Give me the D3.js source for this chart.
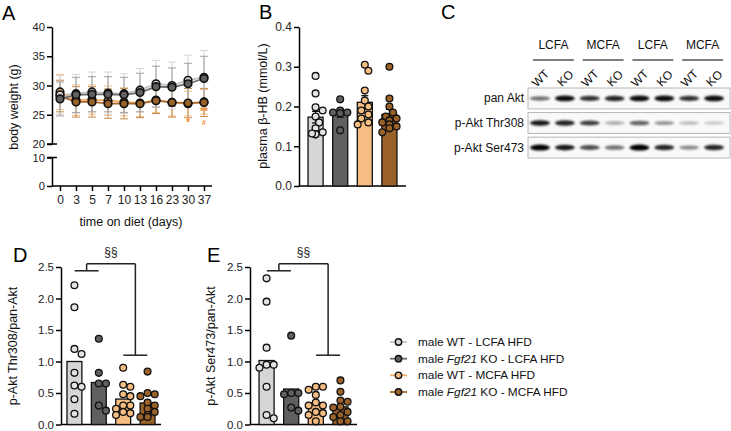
<!DOCTYPE html>
<html><head><meta charset="utf-8">
<script src="https://cdn.jsdelivr.net/npm/d3@7"></script>
<style>body{margin:0;background:#fff}svg{display:block;font-family:"Liberation Sans",Arial,sans-serif}</style>
</head><body><svg id="c" width="731" height="431"></svg>
<script>
// ---------- DATA ----------
const groups = ["WT LCFA", "KO LCFA", "WT MCFA", "KO MCFA"];
const fills = ["#d6d6d6", "#606060", "#f6bd82", "#9a6128"];
const lineColors = ["#c4c4c4", "#6a6a6a", "#f3aa62", "#a3682c"];
const errColors = ["#d4d4d4", "#a0a0a0", "#f4c08c", "#c48a4a"];

// Panel A: body weight
const days = ["0", "3", "5", "7", "10", "13", "16", "23", "30", "37"];
const bwWtLcfa = [28.4, 28.6, 28.9, 28.7, 28.6, 29.2, 30.3, 30.0, 30.9, 31.4];
const bwKoLcfa = [27.7, 28.4, 28.5, 28.5, 28.4, 28.8, 29.8, 29.7, 30.3, 31.2];
const bwWtMcfa = [28.9, 27.5, 27.6, 27.4, 27.2, 27.0, 27.5, 27.1, 26.9, 27.2];
const bwKoMcfa = [28.2, 27.2, 27.2, 26.9, 26.9, 26.9, 27.4, 27.1, 27.0, 27.1];
const sdWtLcfa = [3.3, 3.3, 3.4, 3.6, 3.4, 3.7, 4.0, 4.0, 4.3, 4.6];
const sdKoLcfa = [2.9, 3.0, 3.0, 3.0, 3.0, 3.3, 3.5, 3.3, 3.5, 3.8];
const sdWtMcfa = [3.0, 2.6, 2.5, 2.5, 2.4, 2.3, 2.1, 2.3, 2.1, 2.1];
const sdKoMcfa = [2.7, 2.6, 2.6, 2.5, 2.6, 2.4, 2.2, 2.5, 2.5, 2.4];
const bwSignif = [{day: "30", text: "*", value: 23.0, size: 10}, {day: "37", text: "**", value: 24.9, size: 10}, {day: "37", text: "#", value: 23.2, size: 7}];
const bwTicksUpper = [20, 25, 30, 35, 40];
const bwTicksLower = [0, 10];

// Panel B: plasma beta-HB
const hbWtLcfa = [0.277, 0.233, 0.198, 0.19, 0.175, 0.16, 0.145, 0.135, 0.13, 0.13, 0.132];
const hbKoLcfa = [0.218, 0.19, 0.185, 0.185, 0.183, 0.14];
const hbWtMcfa = [0.305, 0.29, 0.24, 0.215, 0.2, 0.19, 0.18, 0.17, 0.16, 0.155];
const hbKoMcfa = [0.3, 0.22, 0.2, 0.185, 0.175, 0.17, 0.165, 0.16, 0.155, 0.15, 0.145, 0.135];
const hbTicks = [0, 0.1, 0.2, 0.3, 0.4];

// Panel C: western blot
const blotGroups = ["LCFA", "MCFA", "LCFA", "MCFA"];
const blotLanes = ["WT", "KO", "WT", "KO", "WT", "KO", "WT", "KO"];
const blotRows = ["pan Akt", "p-Akt Thr308", "p-Akt Ser473"];
const bandPanAkt = [0.55, 0.95, 0.8, 0.85, 0.95, 0.95, 0.8, 0.95];
const bandThr308 = [0.9, 0.85, 0.75, 0.3, 0.6, 0.4, 0.25, 0.2];
const bandSer473 = [1.0, 0.9, 0.7, 0.55, 1.0, 0.85, 0.45, 0.85];

// Panel D: p-Akt Thr308 / pan-Akt
const thrWtLcfa = [2.21, 1.86, 1.2, 1.12, 0.82, 0.62, 0.6, 0.4, 0.17];
const thrKoLcfa = [1.36, 0.82, 0.65, 0.65, 0.3, 0.22];
const thrWtMcfa = [0.9, 0.63, 0.6, 0.48, 0.45, 0.3, 0.3, 0.25, 0.2, 0.18, 0.15];
const thrKoMcfa = [0.84, 0.5, 0.48, 0.45, 0.35, 0.3, 0.25, 0.2, 0.15, 0.12, 0.12];
// Panel E: p-Akt Ser473 / pan-Akt
const serWtLcfa = [2.32, 1.95, 1.22, 0.95, 0.95, 0.9, 0.6, 0.15, 0.1];
const serKoLcfa = [1.41, 0.5, 0.5, 0.48, 0.27, 0.22];
const serWtMcfa = [0.6, 0.6, 0.55, 0.47, 0.35, 0.3, 0.3, 0.2, 0.18, 0.15, 0.05];
const serKoMcfa = [0.7, 0.52, 0.38, 0.36, 0.28, 0.27, 0.2, 0.15, 0.12, 0.05, 0.05];
const aktTicks = [0, 0.5, 1.0, 1.5, 2.0, 2.5];
const bracketLevels = {top: 2.55, left: 2.44, right: 1.1, label: "§§"};

const legendLabels = [
  ["male WT - LCFA HFD"],
  ["male ", "Fgf21", " KO - LCFA HFD"],
  ["male WT - MCFA HFD"],
  ["male ", "Fgf21", " KO - MCFA HFD"]
];

// ---------- DRAWING ----------
const svg = d3.select("#c");
const FONT = 12;
const TITLE = 12.5;
const defs = svg.append("defs");
defs.append("filter").attr("id", "blur").attr("x", "-50%").attr("y", "-100%").attr("width", "200%").attr("height", "300%")
  .append("feGaussianBlur").attr("stdDeviation", "1.3 0.9");

function panelLetter(t, x, y) {
  svg.append("text").attr("x", x).attr("y", y).attr("font-size", 20).text(t);
}
function styleAxis(g, fs) {
  g.selectAll(".domain").attr("stroke", "#000").attr("stroke-width", 1.5);
  g.selectAll(".tick line").attr("stroke", "#000").attr("stroke-width", 1.5);
  g.selectAll(".tick text").attr("font-size", fs || FONT).attr("fill", "#222").attr("font-family", "Liberation Sans, Arial, sans-serif");
}
function yTitle(t, x, yc) {
  svg.append("text").attr("transform", `translate(${x},${yc}) rotate(-90)`).attr("text-anchor", "middle")
    .attr("font-size", TITLE).attr("fill", "#111").text(t);
}

// ----- Panel A -----
panelLetter("A", 2, 20);
const xA = d3.scalePoint().domain(days).range([60, 204]);
const yUp = d3.scaleLinear().domain([20, 40]).range([144, 27]);
const yLo = d3.scaleLinear().domain([0, 10]).range([186, 157.5]);
const yBW = v => v >= 20 ? yUp(v) : yLo(v);
const gAu = svg.append("g").attr("transform", "translate(52,0)")
  .call(d3.axisLeft(yUp).tickValues(bwTicksUpper).tickSize(5).tickSizeOuter(0).tickPadding(2));
styleAxis(gAu, 11.2);
const gAl = svg.append("g").attr("transform", "translate(52,0)")
  .call(d3.axisLeft(yLo).tickValues(bwTicksLower).tickSize(5).tickSizeOuter(0).tickPadding(2));
styleAxis(gAl, 11.2);
[yUp(20), yLo(10)].forEach(y => svg.append("line").attr("x1", 47).attr("x2", 57).attr("y1", y).attr("y2", y).attr("stroke", "#000").attr("stroke-width", 1.5));
const gAx = svg.append("g").attr("transform", `translate(0,${yLo(0)})`)
  .call(d3.axisBottom(xA).tickSize(5).tickSizeOuter(0).tickPadding(4));
gAx.select(".domain").attr("d", "M52,0H212");
styleAxis(gAx);
yTitle("body weight (g)", 18, 107);
svg.append("text").attr("x", 131).attr("y", 226).attr("text-anchor", "middle").attr("font-size", TITLE).attr("fill", "#111").text("time on diet (days)");

const bwSeries = [
  {m: bwWtLcfa, sd: sdWtLcfa, i: 0}, {m: bwKoLcfa, sd: sdKoLcfa, i: 1},
  {m: bwWtMcfa, sd: sdWtMcfa, i: 2}, {m: bwKoMcfa, sd: sdKoMcfa, i: 3}
];
const drawOrder = [2, 3, 0, 1];
drawOrder.forEach(k => {
  const s = bwSeries[k];
  const g = svg.append("g");
  days.forEach((d, j) => {
    const x = xA(d), y1 = yBW(s.m[j] + s.sd[j]), y0 = yBW(s.m[j] - s.sd[j]);
    g.append("line").attr("x1", x).attr("x2", x).attr("y1", y1).attr("y2", y0).attr("stroke", errColors[s.i]).attr("stroke-width", 1);
    [y1, y0].forEach(y => g.append("line").attr("x1", x - 4).attr("x2", x + 4).attr("y1", y).attr("y2", y).attr("stroke", errColors[s.i]).attr("stroke-width", 1));
  });
});
drawOrder.forEach(k => {
  const s = bwSeries[k];
  svg.append("path").datum(s.m).attr("fill", "none").attr("stroke", lineColors[s.i]).attr("stroke-width", 1.8)
    .attr("d", d3.line().x((v, j) => xA(days[j])).y(v => yBW(v)));
});
drawOrder.forEach(k => {
  const s = bwSeries[k];
  svg.append("g").selectAll("circle").data(s.m).join("circle")
    .attr("cx", (v, j) => xA(days[j])).attr("cy", v => yBW(v)).attr("r", 3.8)
    .attr("fill", fills[s.i]).attr("stroke", "#111").attr("stroke-width", 1.6);
});
bwSignif.forEach(s => {
  svg.append("text").attr("x", xA(s.day)).attr("y", yBW(s.value)).attr("text-anchor", "middle")
    .attr("font-size", s.size).attr("font-weight", "bold").attr("fill", "#f08a2a").text(s.text);
});

// ----- helper for bar + dot panels -----
function beeswarm(vals, y, r, maxOff) {
  const idx = vals.map((v, i) => i).sort((a, b) => vals[b] - vals[a]);
  const placed = [];
  const off = new Array(vals.length).fill(0);
  const step = r * 1.05;
  idx.forEach(i => {
    const yi = y(vals[i]);
    const cands = [0];
    for (let k = 1; k < 8; k++) { cands.push(k * step, -k * step); }
    let chosen = cands.find(c => Math.abs(c) <= maxOff && placed.every(p => (p.x - c) ** 2 + (p.y - yi) ** 2 >= (2 * r * 0.92) ** 2));
    if (chosen === undefined) chosen = 0;
    off[i] = chosen;
    placed.push({x: chosen, y: yi});
  });
  return off;
}
function barPanel(opt) {
  const x = d3.scaleBand().domain(groups).range([opt.x0, opt.x1]).paddingInner(0.388).paddingOuter(opt.outer);
  const y = d3.scaleLinear().domain(opt.domain).range([opt.yb, opt.yt]);
  const gy = svg.append("g").attr("transform", `translate(${opt.x0},0)`)
    .call(d3.axisLeft(y).tickValues(opt.ticks).tickFormat(d3.format(".1f")).tickSize(5).tickSizeOuter(0).tickPadding(2));
  styleAxis(gy, opt.fs);
  svg.append("line").attr("x1", opt.x0).attr("x2", opt.x1).attr("y1", opt.yb).attr("y2", opt.yb).attr("stroke", "#000").attr("stroke-width", 1.5);
  const r = 3.4;
  opt.data.forEach((vals, i) => {
    const g = groups[i];
    const mean = d3.mean(vals);
    const xb = x(g), bw = x.bandwidth();
    svg.append("rect").attr("x", xb).attr("y", y(mean)).attr("width", bw).attr("height", opt.yb - y(mean))
      .attr("fill", fills[i]).attr("stroke", "#111").attr("stroke-width", 1.3);
    if (opt.sem) {
      const sem = d3.deviation(vals) / Math.sqrt(vals.length);
      const cx = xb + bw / 2;
      svg.append("line").attr("x1", cx).attr("x2", cx).attr("y1", y(mean + sem)).attr("y2", y(mean - sem)).attr("stroke", "#111").attr("stroke-width", 1.3);
      [mean + sem, mean - sem].forEach(v => svg.append("line").attr("x1", cx - 3.5).attr("x2", cx + 3.5).attr("y1", y(v)).attr("y2", y(v)).attr("stroke", "#111").attr("stroke-width", 1.3));
    }
    const offs = beeswarm(vals, y, r, bw / 2 + 1);
    svg.append("g").selectAll("circle").data(vals).join("circle")
      .attr("cx", (v, k) => xb + bw / 2 + offs[k]).attr("cy", v => y(v)).attr("r", r)
      .attr("fill", i === 0 ? "#e2e2e2" : fills[i]).attr("stroke", "#111").attr("stroke-width", 1.3);
  });
  return {x, y};
}

// ----- Panel B -----
panelLetter("B", 259, 19);
barPanel({x0: 299, x1: 406, outer: 0.367, domain: [0, 0.4], yb: 186, yt: 27, ticks: hbTicks, sem: true,
  data: [hbWtLcfa, hbKoLcfa, hbWtMcfa, hbKoMcfa]});
yTitle("plasma β-HB (mmol/L)", 267, 106);

// ----- Panel C -----
panelLetter("C", 441, 19);
const xL = d3.scalePoint().domain(d3.range(blotLanes.length)).range([540, 714]);
const yR = d3.scaleBand().domain(blotRows).range([88, 158]).paddingInner(0.15);
const bandData = [bandPanAkt, bandThr308, bandSer473];
blotRows.forEach((row, ri) => {
  svg.append("rect").attr("x", 528).attr("y", yR(row)).attr("width", 202).attr("height", yR.bandwidth())
    .attr("fill", "#f9f9f9").attr("stroke", "#b8b8b8").attr("stroke-width", 1);
  const yc = yR(row) + yR.bandwidth() / 2;
  svg.append("g").attr("filter", "url(#blur)").selectAll("ellipse").data(bandData[ri]).join("ellipse")
    .attr("cx", (v, k) => xL(k)).attr("cy", yc).attr("rx", 10).attr("ry", v => 1.4 + 1.6 * v)
    .attr("fill", "#000").attr("fill-opacity", v => v);
  svg.append("text").attr("x", 524).attr("y", yc + 4).attr("text-anchor", "end").attr("font-size", 12).attr("fill", "#111").text(row);
});
blotGroups.forEach((gname, gi) => {
  const a = xL(gi * 2), b = xL(gi * 2 + 1);
  svg.append("line").attr("x1", a - 7).attr("x2", b + 9).attr("y1", 60).attr("y2", 60).attr("stroke", "#555").attr("stroke-width", 1.5);
  svg.append("text").attr("x", (a + b) / 2 + 1).attr("y", 49).attr("text-anchor", "middle").attr("font-size", 12).attr("fill", "#111").text(gname);
});
blotLanes.forEach((l, k) => {
  svg.append("text").attr("transform", `translate(${xL(k) + 1},${79}) rotate(-45)`).attr("text-anchor", "middle")
    .attr("dominant-baseline", "middle").attr("font-size", 12).attr("fill", "#111").text(l);
});

// ----- Panels D and E -----
function bracket(sc, yScale) {
  const l = (sc.x(groups[0]) + sc.x(groups[1]) + sc.x.bandwidth()) / 2;
  const r = (sc.x(groups[2]) + sc.x(groups[3]) + sc.x.bandwidth()) / 2;
  const yt = yScale(bracketLevels.top), yl = yScale(bracketLevels.left), yr = yScale(bracketLevels.right);
  const ln = (x1, y1, x2, y2) => svg.append("line").attr("x1", x1).attr("y1", y1).attr("x2", x2).attr("y2", y2).attr("stroke", "#222").attr("stroke-width", 1.5);
  ln(l, yt, r, yt); ln(l, yt, l, yl); ln(r, yt, r, yr);
  ln(l - 12, yl, l + 12, yl); ln(r - 12, yr, r + 12, yr);
  svg.append("text").attr("x", (l + r) / 2).attr("y", yt - 8).attr("text-anchor", "middle").attr("font-size", 12).attr("fill", "#222").text(bracketLevels.label);
}
panelLetter("D", 13, 262);
const scD = barPanel({x0: 61, x1: 161, outer: 0.245, domain: [0, 2.5], yb: 424.5, yt: 267, ticks: aktTicks, sem: false, fs: 11.5,
  data: [thrWtLcfa, thrKoLcfa, thrWtMcfa, thrKoMcfa]});
bracket(scD, scD.y);
yTitle("p-Akt Thr308/pan-Akt", 17, 346);

panelLetter("E", 207, 262);
const scE = barPanel({x0: 250, x1: 357, outer: 0.367, domain: [0, 2.5], yb: 424.5, yt: 267, ticks: aktTicks, sem: false, fs: 11.5,
  data: [serWtLcfa, serKoLcfa, serWtMcfa, serKoMcfa]});
bracket(scE, scE.y);
yTitle("p-Akt Ser473/pan-Akt", 215, 346);

// ----- Legend -----
const yLeg = d3.scalePoint().domain(d3.range(4)).range([342, 392]);
legendLabels.forEach((parts, i) => {
  const y = yLeg(i);
  svg.append("line").attr("x1", 390).attr("x2", 407).attr("y1", y).attr("y2", y).attr("stroke", lineColors[i]).attr("stroke-width", 1.8);
  svg.append("circle").attr("cx", 398.5).attr("cy", y).attr("r", 3.2).attr("fill", fills[i]).attr("stroke", "#111").attr("stroke-width", 1.4);
  const t = svg.append("text").attr("x", 418).attr("y", y + 4).attr("font-size", 11.8).attr("fill", "#111");
  parts.forEach(p => t.append("tspan").attr("font-style", p === "Fgf21" ? "italic" : "normal").text(p));
});
</script></body></html>
